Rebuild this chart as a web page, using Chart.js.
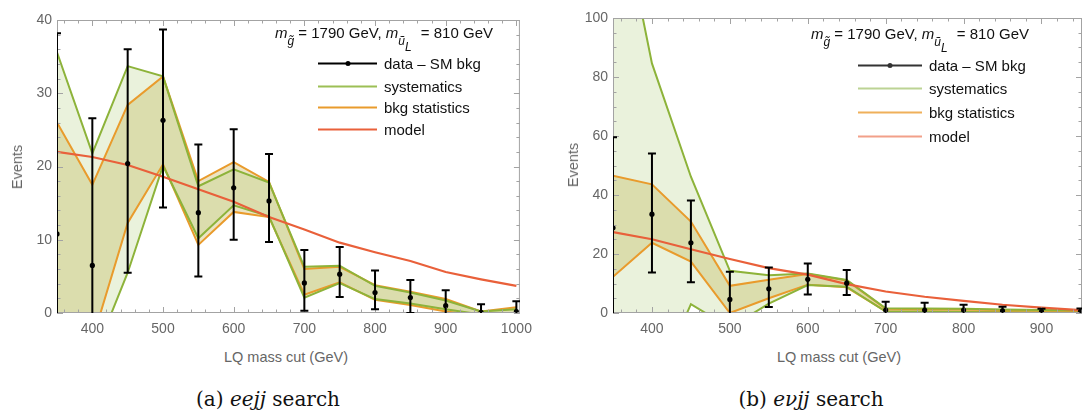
<!DOCTYPE html>
<html>
<head>
<meta charset="utf-8">
<script src="https://cdn.jsdelivr.net/npm/chart.js@4.4.1/dist/chart.umd.min.js"></script>
<style>
body { margin: 0; background: #fff; width: 1086px; height: 412px; position: relative; overflow: hidden; font-family: "Liberation Sans", Arial, sans-serif; }
canvas { position: absolute; top: 0; }
#chartA { left: 0; }
#chartB { left: 540px; }
.lbl { position: absolute; color: #666; font-size: 14.5px; white-space: nowrap; transform: translate(-50%, -50%); }
.ev { transform: translate(-50%, -50%) rotate(-90deg); }
.cap { position: absolute; font-family: "DejaVu Serif", serif; font-size: 20px; color: #111; white-space: nowrap; transform: translate(-50%, -50%); }
.hdr { position: absolute; font-size: 15px; color: #111; white-space: nowrap; }
.hdr sub { font-size: 12px; vertical-align: -7px; }
.hdr sub sub { font-size: 12px; vertical-align: -6px; margin-right: 5px; }
.leg { position: absolute; font-size: 15px; color: #111; white-space: nowrap; display: flex; align-items: center; transform: translateY(-50%); }
.sw { display: inline-block; height: 2px; margin-right: 7px; position: relative; }
.sw.dot::after { content: ""; position: absolute; left: 50%; top: 50%; width: 5px; height: 5px; border-radius: 50%; background: inherit; transform: translate(-50%, -50%); }
</style>
</head>
<body>
<canvas id="chartA" width="540" height="345"></canvas>
<canvas id="chartB" width="546" height="345"></canvas>

<div class="lbl ev" style="left:17px;top:167px">Events</div>
<div class="lbl" style="left:286px;top:357px">LQ mass cut (GeV)</div>
<div class="cap" style="left:268px;top:399px">(a) <i>eejj</i> search</div>

<div class="lbl ev" style="left:573px;top:165px">Events</div>
<div class="lbl" style="left:839px;top:357px">LQ mass cut (GeV)</div>
<div class="cap" style="left:811px;top:399px">(b) <i>eνjj</i> search</div>

<div class="hdr" style="left:275px;top:24px"><i>m</i><sub><i>g̃</i></sub> = 1790 GeV, <i>m</i><sub><i>ũ</i><sub><i>L</i></sub></sub> = 810 GeV</div>
<div class="leg" style="left:318px;top:63px"><span class="sw dot" style="width:59px;background:#000"></span>data – SM bkg</div>
<div class="leg" style="left:318px;top:86px"><span class="sw" style="width:59px;background:#9cbf55"></span>systematics</div>
<div class="leg" style="left:318px;top:107px"><span class="sw" style="width:59px;background:#e99b2c"></span>bkg statistics</div>
<div class="leg" style="left:318px;top:129px"><span class="sw" style="width:59px;background:#e9603a"></span>model</div>

<div class="hdr" style="left:811px;top:25px"><i>m</i><sub><i>g̃</i></sub> = 1790 GeV, <i>m</i><sub><i>ũ</i><sub><i>L</i></sub></sub> = 810 GeV</div>
<div class="leg" style="left:858px;top:65px"><span class="sw dot" style="width:64px;background:#333"></span>data – SM bkg</div>
<div class="leg" style="left:858px;top:88px"><span class="sw" style="width:64px;background:#bcd394"></span>systematics</div>
<div class="leg" style="left:858px;top:112px"><span class="sw" style="width:64px;background:#efb05a"></span>bkg statistics</div>
<div class="leg" style="left:858px;top:136px"><span class="sw" style="width:64px;background:#f2a089"></span>model</div>

<script>
// (a) eejj search
const massA = [350, 400, 450, 500, 550, 600, 650, 700, 750, 800, 850, 900, 950, 1000];
const dataA = [10.8, 6.5, 20.4, 26.3, 13.7, 17.1, 15.3, 4.1, 5.3, 2.8, 2.1, 1.0, 0.1, 0.2];
const errHiA = [38.2, 26.6, 36.0, 38.7, 23.0, 25.1, 21.7, 8.6, 9.0, 5.8, 4.5, 3.1, 1.2, 1.6];
const errLoA = [-16.6, -13.6, 5.5, 14.4, 5.0, 10.0, 9.7, 0.3, 2.2, 0.5, 0.0, -0.8, -1.0, -1.0];
const sysUpA = [35.6, 21.8, 33.7, 32.3, 17.3, 19.6, 17.8, 6.3, 6.45, 3.7, 2.8, 1.7, 0.2, 0.5];
const sysLoA = [-12, -6.5, 5.5, 20.1, 10.2, 14.7, 13.2, 2.1, 4.1, 1.9, 1.3, 0.5, -0.2, 0.0];
const statUpA = [26.0, 17.5, 28.4, 32.3, 18.0, 20.6, 17.9, 6.0, 6.3, 3.8, 2.9, 1.9, 0.2, 0.8];
const statLoA = [-8, -3.7, 12.3, 20.3, 9.3, 13.8, 13.1, 2.5, 4.2, 1.8, 1.1, 0.2, -0.3, 0.0];
const modelA = [22.0, 21.3, 20.2, 18.6, 16.9, 15.2, 13.1, 11.4, 9.6, 8.3, 7.1, 5.6, 4.6, 3.7];
const xTicksA = [400, 500, 600, 700, 800, 900, 1000];
const yTicksA = [0, 10, 20, 30, 40];

// (b) evjj search
const massB = [350, 400, 450, 500, 550, 600, 650, 700, 750, 800, 850, 900, 950];
const dataB = [28.9, 33.5, 23.8, 4.6, 8.2, 11.4, 10.1, 1.0, 1.0, 1.0, 0.7, 0.45, 0.5];
const errHiB = [59.6, 54.1, 38.1, 14.0, 15.4, 16.8, 14.6, 3.8, 3.5, 2.8, 2.1, 1.4, 1.5];
const errLoB = [-2, 13.7, 10.4, -5, 2.0, 6.3, 6.1, -1.5, -1.5, -0.6, -0.7, -0.5, -0.5];
const sysUpB = [150, 84.6, 46.2, 14.3, 12.8, 13.4, 11.2, 1.6, 1.5, 1.4, 1.2, 1.0, 0.9];
const sysLoB = [-60, -27, 3.0, -5, 3.2, 9.5, 8.9, 0.5, 0.4, 0.3, 0.2, 0.1, 0.1];
const statUpB = [46.5, 43.6, 31.0, 9.2, 11.3, 13.2, 11.0, 1.4, 1.3, 1.2, 1.0, 0.8, 0.7];
const statLoB = [12.3, 23.8, 17.4, 0.0, 5.0, 9.6, 8.7, 0.6, 0.5, 0.4, 0.3, 0.2, 0.2];
const modelB = [27.4, 25.0, 21.6, 18.3, 15.2, 13.0, 9.8, 7.3, 5.5, 4.1, 2.8, 1.8, 1.0];
const xTicksB = [400, 500, 600, 700, 800, 900];
const yTicksB = [0, 20, 40, 60, 80, 100];

const green = '#8db33a';
const orange = '#e99b2c';
const red = '#e9603a';

function pts(xs, ys) {
    return xs.map((x, i) => ({ x: x, y: ys[i] }));
}

// frame box with inward major/minor ticks on all four sides
const frameTicks = {
    id: 'frameTicks',
    afterDatasetsDraw(chart, args, o) {
        const { ctx, chartArea: a, scales: { x, y } } = chart;
        ctx.save();
        ctx.strokeStyle = '#a3a3a3';
        ctx.lineWidth = 1;
        ctx.strokeRect(a.left + 0.5, a.top + 0.5, a.right - a.left - 1, a.bottom - a.top - 1);
        ctx.beginPath();
        for (let v = Math.ceil(x.min / o.xMinor) * o.xMinor; v <= x.max; v += o.xMinor) {
            const p = Math.round(x.getPixelForValue(v)) + 0.5;
            const len = v % o.xMajor === 0 ? 6 : 3.5;
            ctx.moveTo(p, a.bottom); ctx.lineTo(p, a.bottom - len);
            ctx.moveTo(p, a.top); ctx.lineTo(p, a.top + len);
        }
        for (let v = Math.ceil(y.min / o.yMinor) * o.yMinor; v <= y.max; v += o.yMinor) {
            const p = Math.round(y.getPixelForValue(v)) + 0.5;
            const len = v % o.yMajor === 0 ? 6 : 3.5;
            ctx.moveTo(a.left, p); ctx.lineTo(a.left + len, p);
            ctx.moveTo(a.right, p); ctx.lineTo(a.right - len, p);
        }
        ctx.stroke();
        ctx.restore();
    }
};

const errorBars = {
    id: 'errorBars',
    afterDatasetsDraw(chart, args, o) {
        const { ctx, chartArea: a, scales: { x, y } } = chart;
        ctx.save();
        ctx.beginPath();
        ctx.rect(a.left, a.top, a.right - a.left, a.bottom - a.top);
        ctx.clip();
        ctx.strokeStyle = '#000';
        ctx.lineWidth = 2;
        o.xs.forEach((xv, i) => {
            const px = x.getPixelForValue(xv);
            const pt = y.getPixelForValue(o.hi[i]);
            const pb = y.getPixelForValue(o.lo[i]);
            ctx.beginPath();
            ctx.moveTo(px, pt); ctx.lineTo(px, pb);
            ctx.moveTo(px - 4, pt); ctx.lineTo(px + 4, pt);
            ctx.moveTo(px - 4, pb); ctx.lineTo(px + 4, pb);
            ctx.stroke();
        });
        ctx.restore();
    }
};

const tickFont = { family: '"Liberation Sans", Arial, sans-serif', size: 14 };

function makeChart(id, cfg) {
    const lineDs = (label, ys, color, extra) => Object.assign({
        label: label,
        data: pts(cfg.xs, ys),
        borderColor: color,
        borderWidth: 2,
        pointRadius: 0,
        tension: 0,
        fill: false
    }, extra || {});

    // index 0 is drawn on top, the last one at the bottom
    return new Chart(document.getElementById(id), {
        type: 'line',
        data: {
            datasets: [
                {
                    label: 'data – SM bkg',
                    data: pts(cfg.xs, cfg.data),
                    showLine: false,
                    pointRadius: 2.6,
                    pointBackgroundColor: '#000',
                    pointBorderColor: '#000',
                    pointBorderWidth: 0
                },
                lineDs('model', cfg.model, red, { borderWidth: 2.2 }),
                lineDs('systematics', cfg.sysUp, green, { fill: '+1', backgroundColor: 'rgba(150,190,80,0.2)' }),
                lineDs('systematics low', cfg.sysLo, green),
                lineDs('bkg statistics', cfg.statUp, orange, { fill: '+1', backgroundColor: 'rgba(205,185,100,0.38)' }),
                lineDs('bkg statistics low', cfg.statLo, orange)
            ]
        },
        options: {
            responsive: false,
            animation: false,
            events: [],
            layout: { padding: cfg.padding },
            scales: {
                x: {
                    type: 'linear',
                    min: cfg.xMin,
                    max: cfg.xMax,
                    afterBuildTicks: (s) => { s.ticks = cfg.xTicks.map(v => ({ value: v })); },
                    afterFit: (s) => { s.height = 32; },
                    grid: { display: false, drawTicks: false },
                    border: { display: false },
                    ticks: {
                        padding: 8,
                        color: '#666',
                        font: tickFont,
                        callback: (v) => String(v)
                    }
                },
                y: {
                    min: 0,
                    max: cfg.yMax,
                    afterBuildTicks: (s) => { s.ticks = cfg.yTicks.map(v => ({ value: v })); },
                    afterFit: (s) => { s.width = cfg.yWidth; },
                    grid: { display: false, drawTicks: false },
                    border: { display: false },
                    ticks: {
                        padding: 5,
                        color: '#666',
                        font: tickFont,
                        callback: (v) => String(v)
                    }
                }
            },
            plugins: {
                legend: { display: false },
                tooltip: { enabled: false },
                filler: { drawTime: 'beforeDatasetsDraw' },
                frameTicks: { xMinor: 20, xMajor: 100, yMinor: cfg.yMinor, yMajor: cfg.yMajor },
                errorBars: { xs: cfg.xs, lo: cfg.errLo, hi: cfg.errHi }
            }
        },
        plugins: [frameTicks, errorBars]
    });
}

makeChart('chartA', {
    xs: massA, data: dataA, errHi: errHiA, errLo: errLoA,
    sysUp: sysUpA, sysLo: sysLoA, statUp: statUpA, statLo: statLoA, model: modelA,
    xTicks: xTicksA, yTicks: yTicksA,
    xMin: 350, xMax: 1005, yMax: 40, yMajor: 10, yMinor: 2, yWidth: 57,
    padding: { top: 20, right: 7, left: 0, bottom: 0 }
});

makeChart('chartB', {
    xs: massB, data: dataB, errHi: errHiB, errLo: errLoB,
    sysUp: sysUpB, sysLo: sysLoB, statUp: statUpB, statLo: statLoB, model: modelB,
    xTicks: xTicksB, yTicks: yTicksB,
    xMin: 350, xMax: 952, yMax: 100, yMajor: 20, yMinor: 5, yWidth: 73,
    padding: { top: 18, right: 1, left: 0, bottom: 0 }
});
</script>
</body>
</html>
